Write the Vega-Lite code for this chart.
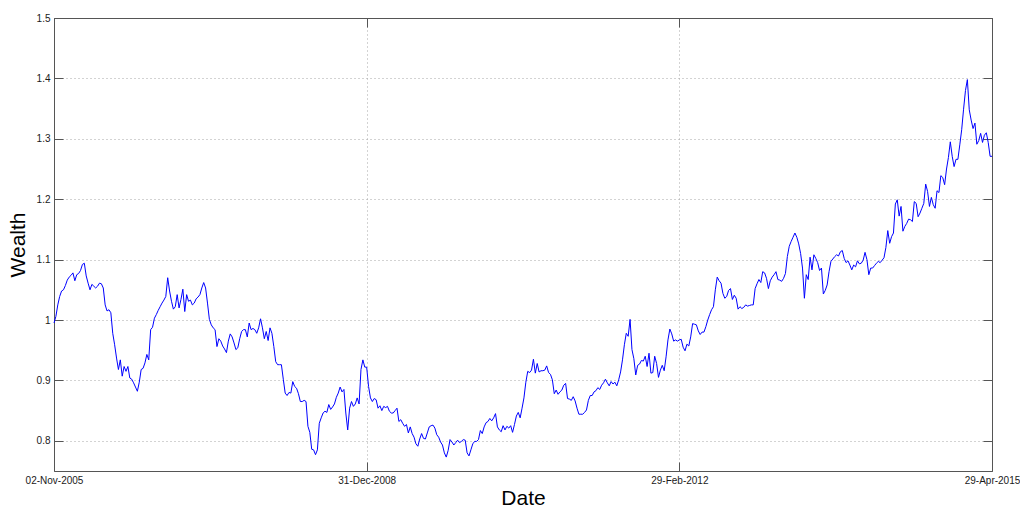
{
"$schema": "https://vega.github.io/schema/vega-lite/v6.json",
"width": 938,
"height": 453,
"autosize": "none",
"padding": {"left": 54, "top": 18, "right": 28, "bottom": 36},
"background": "white",
"config": {"view": {"stroke": null}, "font": "Liberation Sans"},
"data": {"values": [
{"date":"2005-11-02","wealth":0.995},{"date":"2005-11-09","wealth":1.006},{"date":"2005-11-16","wealth":1.025},{"date":"2005-11-23","wealth":1.039},{"date":"2005-11-30","wealth":1.048},{"date":"2005-12-07","wealth":1.05},{"date":"2005-12-14","wealth":1.057},{"date":"2005-12-21","wealth":1.066},{"date":"2005-12-28","wealth":1.071},
{"date":"2006-01-04","wealth":1.074},{"date":"2006-01-11","wealth":1.078},{"date":"2006-01-18","wealth":1.065},{"date":"2006-01-25","wealth":1.075},{"date":"2006-02-01","wealth":1.077},{"date":"2006-02-08","wealth":1.082},{"date":"2006-02-15","wealth":1.092},{"date":"2006-02-22","wealth":1.094},{"date":"2006-03-01","wealth":1.073},{"date":"2006-03-08","wealth":1.061},{"date":"2006-03-15","wealth":1.05},{"date":"2006-03-22","wealth":1.059},{"date":"2006-03-29","wealth":1.056},{"date":"2006-04-05","wealth":1.053},{"date":"2006-04-12","wealth":1.056},{"date":"2006-04-19","wealth":1.061},{"date":"2006-04-26","wealth":1.06},{"date":"2006-05-03","wealth":1.053},{"date":"2006-05-10","wealth":1.025},{"date":"2006-05-17","wealth":1.015},{"date":"2006-05-24","wealth":1.017},{"date":"2006-05-31","wealth":1.012},{"date":"2006-06-07","wealth":0.978},{"date":"2006-06-14","wealth":0.959},{"date":"2006-06-21","wealth":0.937},{"date":"2006-06-28","wealth":0.918},{"date":"2006-07-05","wealth":0.934},{"date":"2006-07-12","wealth":0.907},{"date":"2006-07-19","wealth":0.923},{"date":"2006-07-26","wealth":0.915},{"date":"2006-08-02","wealth":0.923},{"date":"2006-08-09","wealth":0.904},{"date":"2006-08-16","wealth":0.902},{"date":"2006-08-23","wealth":0.896},{"date":"2006-08-30","wealth":0.889},{"date":"2006-09-06","wealth":0.882},{"date":"2006-09-13","wealth":0.897},{"date":"2006-09-20","wealth":0.918},{"date":"2006-09-27","wealth":0.92},{"date":"2006-10-04","wealth":0.929},{"date":"2006-10-11","wealth":0.943},{"date":"2006-10-18","wealth":0.934},{"date":"2006-10-25","wealth":0.984},{"date":"2006-11-01","wealth":0.988},{"date":"2006-11-08","wealth":1.003},{"date":"2006-11-15","wealth":1.009},{"date":"2006-11-22","wealth":1.016},{"date":"2006-11-29","wealth":1.022},{"date":"2006-12-06","wealth":1.028},{"date":"2006-12-13","wealth":1.033},{"date":"2006-12-20","wealth":1.039},{"date":"2006-12-27","wealth":1.07},
{"date":"2007-01-03","wealth":1.048},{"date":"2007-01-10","wealth":1.031},{"date":"2007-01-17","wealth":1.018},{"date":"2007-01-24","wealth":1.022},{"date":"2007-01-31","wealth":1.042},{"date":"2007-02-07","wealth":1.02},{"date":"2007-02-14","wealth":1.034},{"date":"2007-02-21","wealth":1.051},{"date":"2007-02-28","wealth":1.014},{"date":"2007-03-07","wealth":1.042},{"date":"2007-03-14","wealth":1.031},{"date":"2007-03-21","wealth":1.033},{"date":"2007-03-28","wealth":1.025},{"date":"2007-04-04","wealth":1.028},{"date":"2007-04-11","wealth":1.035},{"date":"2007-04-18","wealth":1.038},{"date":"2007-04-25","wealth":1.042},{"date":"2007-05-02","wealth":1.053},{"date":"2007-05-09","wealth":1.062},{"date":"2007-05-16","wealth":1.053},{"date":"2007-05-23","wealth":1.028},{"date":"2007-05-30","wealth":1.001},{"date":"2007-06-06","wealth":0.992},{"date":"2007-06-13","wealth":0.987},{"date":"2007-06-20","wealth":0.984},{"date":"2007-06-27","wealth":0.956},{"date":"2007-07-04","wealth":0.969},{"date":"2007-07-11","wealth":0.965},{"date":"2007-07-18","wealth":0.957},{"date":"2007-07-25","wealth":0.952},{"date":"2007-08-01","wealth":0.946},{"date":"2007-08-08","wealth":0.965},{"date":"2007-08-15","wealth":0.977},{"date":"2007-08-22","wealth":0.972},{"date":"2007-08-29","wealth":0.962},{"date":"2007-09-05","wealth":0.951},{"date":"2007-09-12","wealth":0.954},{"date":"2007-09-19","wealth":0.969},{"date":"2007-09-26","wealth":0.981},{"date":"2007-10-03","wealth":0.984},{"date":"2007-10-10","wealth":0.984},{"date":"2007-10-17","wealth":0.972},{"date":"2007-10-24","wealth":0.995},{"date":"2007-10-31","wealth":0.984},{"date":"2007-11-07","wealth":0.986},{"date":"2007-11-14","wealth":0.984},{"date":"2007-11-21","wealth":0.978},{"date":"2007-11-28","wealth":0.987},{"date":"2007-12-05","wealth":1.002},{"date":"2007-12-12","wealth":0.987},{"date":"2007-12-19","wealth":0.969},{"date":"2007-12-26","wealth":0.981},
{"date":"2008-01-02","wealth":0.966},{"date":"2008-01-09","wealth":0.987},{"date":"2008-01-16","wealth":0.978},{"date":"2008-01-23","wealth":0.956},{"date":"2008-01-30","wealth":0.931},{"date":"2008-02-06","wealth":0.926},{"date":"2008-02-13","wealth":0.926},{"date":"2008-02-20","wealth":0.926},{"date":"2008-02-27","wealth":0.902},{"date":"2008-03-05","wealth":0.879},{"date":"2008-03-12","wealth":0.875},{"date":"2008-03-19","wealth":0.88},{"date":"2008-03-26","wealth":0.879},{"date":"2008-04-02","wealth":0.898},{"date":"2008-04-09","wealth":0.89},{"date":"2008-04-16","wealth":0.887},{"date":"2008-04-23","wealth":0.878},{"date":"2008-04-30","wealth":0.865},{"date":"2008-05-07","wealth":0.865},{"date":"2008-05-14","wealth":0.867},{"date":"2008-05-21","wealth":0.865},{"date":"2008-05-28","wealth":0.824},{"date":"2008-06-04","wealth":0.814},{"date":"2008-06-11","wealth":0.786},{"date":"2008-06-18","wealth":0.785},{"date":"2008-06-25","wealth":0.777},{"date":"2008-07-02","wealth":0.785},{"date":"2008-07-09","wealth":0.829},{"date":"2008-07-16","wealth":0.838},{"date":"2008-07-23","wealth":0.846},{"date":"2008-07-30","wealth":0.849},{"date":"2008-08-06","wealth":0.847},{"date":"2008-08-13","wealth":0.86},{"date":"2008-08-20","wealth":0.852},{"date":"2008-08-27","wealth":0.856},{"date":"2008-09-03","wealth":0.861},{"date":"2008-09-10","wealth":0.872},{"date":"2008-09-17","wealth":0.879},{"date":"2008-09-24","wealth":0.889},{"date":"2008-10-01","wealth":0.881},{"date":"2008-10-08","wealth":0.885},{"date":"2008-10-15","wealth":0.846},{"date":"2008-10-22","wealth":0.818},{"date":"2008-10-29","wealth":0.854},{"date":"2008-11-05","wealth":0.865},{"date":"2008-11-12","wealth":0.857},{"date":"2008-11-19","wealth":0.861},{"date":"2008-11-26","wealth":0.871},{"date":"2008-12-03","wealth":0.861},{"date":"2008-12-10","wealth":0.918},{"date":"2008-12-17","wealth":0.934},{"date":"2008-12-24","wealth":0.922},{"date":"2008-12-31","wealth":0.922},
{"date":"2009-01-07","wealth":0.89},{"date":"2009-01-14","wealth":0.871},{"date":"2009-01-21","wealth":0.865},{"date":"2009-01-28","wealth":0.87},{"date":"2009-02-04","wealth":0.868},{"date":"2009-02-11","wealth":0.854},{"date":"2009-02-18","wealth":0.858},{"date":"2009-02-25","wealth":0.85},{"date":"2009-03-04","wealth":0.857},{"date":"2009-03-11","wealth":0.855},{"date":"2009-03-18","wealth":0.857},{"date":"2009-03-25","wealth":0.849},{"date":"2009-04-01","wealth":0.846},{"date":"2009-04-08","wealth":0.846},{"date":"2009-04-15","wealth":0.85},{"date":"2009-04-22","wealth":0.854},{"date":"2009-04-29","wealth":0.832},{"date":"2009-05-06","wealth":0.835},{"date":"2009-05-13","wealth":0.829},{"date":"2009-05-20","wealth":0.824},{"date":"2009-05-27","wealth":0.827},{"date":"2009-06-03","wealth":0.813},{"date":"2009-06-10","wealth":0.823},{"date":"2009-06-17","wealth":0.812},{"date":"2009-06-24","wealth":0.806},{"date":"2009-07-01","wealth":0.795},{"date":"2009-07-08","wealth":0.791},{"date":"2009-07-15","wealth":0.803},{"date":"2009-07-22","wealth":0.812},{"date":"2009-07-29","wealth":0.804},{"date":"2009-08-05","wealth":0.803},{"date":"2009-08-12","wealth":0.813},{"date":"2009-08-19","wealth":0.823},{"date":"2009-08-26","wealth":0.825},{"date":"2009-09-02","wealth":0.826},{"date":"2009-09-09","wealth":0.821},{"date":"2009-09-16","wealth":0.81},{"date":"2009-09-23","wealth":0.806},{"date":"2009-09-30","wealth":0.798},{"date":"2009-10-07","wealth":0.793},{"date":"2009-10-14","wealth":0.78},{"date":"2009-10-21","wealth":0.773},{"date":"2009-10-28","wealth":0.784},{"date":"2009-11-04","wealth":0.802},{"date":"2009-11-11","wealth":0.798},{"date":"2009-11-18","wealth":0.793},{"date":"2009-11-25","wealth":0.797},{"date":"2009-12-02","wealth":0.801},{"date":"2009-12-09","wealth":0.797},{"date":"2009-12-16","wealth":0.799},{"date":"2009-12-23","wealth":0.802},{"date":"2009-12-30","wealth":0.801},
{"date":"2010-01-06","wealth":0.78},{"date":"2010-01-13","wealth":0.775},{"date":"2010-01-20","wealth":0.785},{"date":"2010-01-27","wealth":0.795},{"date":"2010-02-03","wealth":0.799},{"date":"2010-02-10","wealth":0.799},{"date":"2010-02-17","wealth":0.802},{"date":"2010-02-24","wealth":0.817},{"date":"2010-03-03","wealth":0.812},{"date":"2010-03-10","wealth":0.823},{"date":"2010-03-17","wealth":0.83},{"date":"2010-03-24","wealth":0.832},{"date":"2010-03-31","wealth":0.837},{"date":"2010-04-07","wealth":0.833},{"date":"2010-04-14","wealth":0.838},{"date":"2010-04-21","wealth":0.845},{"date":"2010-04-28","wealth":0.823},{"date":"2010-05-05","wealth":0.818},{"date":"2010-05-12","wealth":0.815},{"date":"2010-05-19","wealth":0.825},{"date":"2010-05-26","wealth":0.818},{"date":"2010-06-02","wealth":0.824},{"date":"2010-06-09","wealth":0.821},{"date":"2010-06-16","wealth":0.825},{"date":"2010-06-23","wealth":0.814},{"date":"2010-06-30","wealth":0.827},{"date":"2010-07-07","wealth":0.841},{"date":"2010-07-14","wealth":0.847},{"date":"2010-07-21","wealth":0.838},{"date":"2010-07-28","wealth":0.854},{"date":"2010-08-04","wealth":0.871},{"date":"2010-08-11","wealth":0.897},{"date":"2010-08-18","wealth":0.915},{"date":"2010-08-25","wealth":0.913},{"date":"2010-09-01","wealth":0.917},{"date":"2010-09-08","wealth":0.935},{"date":"2010-09-15","wealth":0.912},{"date":"2010-09-22","wealth":0.928},{"date":"2010-09-29","wealth":0.914},{"date":"2010-10-06","wealth":0.916},{"date":"2010-10-13","wealth":0.916},{"date":"2010-10-20","wealth":0.917},{"date":"2010-10-27","wealth":0.924},{"date":"2010-11-03","wealth":0.913},{"date":"2010-11-10","wealth":0.91},{"date":"2010-11-17","wealth":0.901},{"date":"2010-11-24","wealth":0.878},{"date":"2010-12-01","wealth":0.884},{"date":"2010-12-08","wealth":0.877},{"date":"2010-12-15","wealth":0.881},{"date":"2010-12-22","wealth":0.884},{"date":"2010-12-29","wealth":0.892},
{"date":"2011-01-05","wealth":0.895},{"date":"2011-01-12","wealth":0.87},{"date":"2011-01-19","wealth":0.869},{"date":"2011-01-26","wealth":0.867},{"date":"2011-02-02","wealth":0.873},{"date":"2011-02-09","wealth":0.866},{"date":"2011-02-16","wealth":0.854},{"date":"2011-02-23","wealth":0.844},{"date":"2011-03-02","wealth":0.844},{"date":"2011-03-09","wealth":0.844},{"date":"2011-03-16","wealth":0.847},{"date":"2011-03-23","wealth":0.851},{"date":"2011-03-30","wealth":0.867},{"date":"2011-04-06","wealth":0.875},{"date":"2011-04-13","wealth":0.875},{"date":"2011-04-20","wealth":0.881},{"date":"2011-04-27","wealth":0.883},{"date":"2011-05-04","wealth":0.888},{"date":"2011-05-11","wealth":0.885},{"date":"2011-05-18","wealth":0.892},{"date":"2011-05-25","wealth":0.896},{"date":"2011-06-01","wealth":0.902},{"date":"2011-06-08","wealth":0.896},{"date":"2011-06-15","wealth":0.891},{"date":"2011-06-22","wealth":0.898},{"date":"2011-06-29","wealth":0.894},{"date":"2011-07-06","wealth":0.897},{"date":"2011-07-13","wealth":0.891},{"date":"2011-07-20","wealth":0.901},{"date":"2011-07-27","wealth":0.914},{"date":"2011-08-03","wealth":0.934},{"date":"2011-08-10","wealth":0.959},{"date":"2011-08-17","wealth":0.978},{"date":"2011-08-24","wealth":0.973},{"date":"2011-08-31","wealth":1.001},{"date":"2011-09-07","wealth":0.951},{"date":"2011-09-14","wealth":0.936},{"date":"2011-09-21","wealth":0.909},{"date":"2011-09-28","wealth":0.925},{"date":"2011-10-05","wealth":0.927},{"date":"2011-10-12","wealth":0.933},{"date":"2011-10-19","wealth":0.932},{"date":"2011-10-26","wealth":0.94},{"date":"2011-11-02","wealth":0.923},{"date":"2011-11-09","wealth":0.945},{"date":"2011-11-16","wealth":0.912},{"date":"2011-11-23","wealth":0.913},{"date":"2011-11-30","wealth":0.94},{"date":"2011-12-07","wealth":0.928},{"date":"2011-12-14","wealth":0.905},{"date":"2011-12-21","wealth":0.917},{"date":"2011-12-28","wealth":0.925},
{"date":"2012-01-04","wealth":0.916},{"date":"2012-01-11","wealth":0.939},{"date":"2012-01-18","wealth":0.967},{"date":"2012-01-25","wealth":0.985},{"date":"2012-02-01","wealth":0.977},{"date":"2012-02-08","wealth":0.965},{"date":"2012-02-15","wealth":0.967},{"date":"2012-02-22","wealth":0.965},{"date":"2012-02-29","wealth":0.967},{"date":"2012-03-07","wealth":0.968},{"date":"2012-03-14","wealth":0.955},{"date":"2012-03-21","wealth":0.949},{"date":"2012-03-28","wealth":0.96},{"date":"2012-04-04","wealth":0.957},{"date":"2012-04-11","wealth":0.972},{"date":"2012-04-18","wealth":0.994},{"date":"2012-04-25","wealth":0.993},{"date":"2012-05-02","wealth":0.992},{"date":"2012-05-09","wealth":0.982},{"date":"2012-05-16","wealth":0.976},{"date":"2012-05-23","wealth":0.98},{"date":"2012-05-30","wealth":0.98},{"date":"2012-06-06","wealth":0.989},{"date":"2012-06-13","wealth":1.0},{"date":"2012-06-20","wealth":1.009},{"date":"2012-06-27","wealth":1.017},{"date":"2012-07-04","wealth":1.022},{"date":"2012-07-11","wealth":1.05},{"date":"2012-07-18","wealth":1.071},{"date":"2012-07-25","wealth":1.065},{"date":"2012-08-01","wealth":1.061},{"date":"2012-08-08","wealth":1.044},{"date":"2012-08-15","wealth":1.036},{"date":"2012-08-22","wealth":1.039},{"date":"2012-08-29","wealth":1.049},{"date":"2012-09-05","wealth":1.052},{"date":"2012-09-12","wealth":1.034},{"date":"2012-09-19","wealth":1.041},{"date":"2012-09-26","wealth":1.036},{"date":"2012-10-03","wealth":1.018},{"date":"2012-10-10","wealth":1.022},{"date":"2012-10-17","wealth":1.019},{"date":"2012-10-24","wealth":1.021},{"date":"2012-10-31","wealth":1.025},{"date":"2012-11-07","wealth":1.023},{"date":"2012-11-14","wealth":1.024},{"date":"2012-11-21","wealth":1.025},{"date":"2012-11-28","wealth":1.025},{"date":"2012-12-05","wealth":1.052},{"date":"2012-12-12","wealth":1.06},{"date":"2012-12-19","wealth":1.067},{"date":"2012-12-26","wealth":1.062},
{"date":"2013-01-02","wealth":1.08},{"date":"2013-01-09","wealth":1.078},{"date":"2013-01-16","wealth":1.069},{"date":"2013-01-23","wealth":1.052},{"date":"2013-01-30","wealth":1.065},{"date":"2013-02-06","wealth":1.071},{"date":"2013-02-13","wealth":1.075},{"date":"2013-02-20","wealth":1.08},{"date":"2013-02-27","wealth":1.067},{"date":"2013-03-06","wealth":1.066},{"date":"2013-03-13","wealth":1.064},{"date":"2013-03-20","wealth":1.069},{"date":"2013-03-27","wealth":1.077},{"date":"2013-04-03","wealth":1.105},{"date":"2013-04-10","wealth":1.122},{"date":"2013-04-17","wealth":1.13},{"date":"2013-04-24","wealth":1.137},{"date":"2013-05-01","wealth":1.144},{"date":"2013-05-08","wealth":1.137},{"date":"2013-05-15","wealth":1.126},{"date":"2013-05-22","wealth":1.11},{"date":"2013-05-29","wealth":1.086},{"date":"2013-06-05","wealth":1.036},{"date":"2013-06-12","wealth":1.075},{"date":"2013-06-19","wealth":1.067},{"date":"2013-06-26","wealth":1.104},{"date":"2013-07-03","wealth":1.083},{"date":"2013-07-10","wealth":1.108},{"date":"2013-07-17","wealth":1.102},{"date":"2013-07-24","wealth":1.095},{"date":"2013-07-31","wealth":1.082},{"date":"2013-08-07","wealth":1.086},{"date":"2013-08-14","wealth":1.043},{"date":"2013-08-21","wealth":1.049},{"date":"2013-08-28","wealth":1.058},{"date":"2013-09-04","wealth":1.08},{"date":"2013-09-11","wealth":1.097},{"date":"2013-09-18","wealth":1.101},{"date":"2013-09-25","wealth":1.105},{"date":"2013-10-02","wealth":1.108},{"date":"2013-10-09","wealth":1.106},{"date":"2013-10-16","wealth":1.113},{"date":"2013-10-23","wealth":1.115},{"date":"2013-10-30","wealth":1.102},{"date":"2013-11-06","wealth":1.095},{"date":"2013-11-13","wealth":1.098},{"date":"2013-11-20","wealth":1.091},{"date":"2013-11-27","wealth":1.083},{"date":"2013-12-04","wealth":1.091},{"date":"2013-12-11","wealth":1.088},{"date":"2013-12-18","wealth":1.098},{"date":"2013-12-25","wealth":1.093},
{"date":"2014-01-01","wealth":1.094},{"date":"2014-01-08","wealth":1.099},{"date":"2014-01-15","wealth":1.112},{"date":"2014-01-22","wealth":1.1},{"date":"2014-01-29","wealth":1.075},{"date":"2014-02-05","wealth":1.086},{"date":"2014-02-12","wealth":1.086},{"date":"2014-02-19","wealth":1.09},{"date":"2014-02-26","wealth":1.094},{"date":"2014-03-05","wealth":1.097},{"date":"2014-03-12","wealth":1.095},{"date":"2014-03-19","wealth":1.099},{"date":"2014-03-26","wealth":1.103},{"date":"2014-04-02","wealth":1.12},{"date":"2014-04-09","wealth":1.148},{"date":"2014-04-16","wealth":1.127},{"date":"2014-04-23","wealth":1.138},{"date":"2014-04-30","wealth":1.144},{"date":"2014-05-07","wealth":1.192},{"date":"2014-05-14","wealth":1.199},{"date":"2014-05-21","wealth":1.172},{"date":"2014-05-28","wealth":1.188},{"date":"2014-06-04","wealth":1.147},{"date":"2014-06-11","wealth":1.155},{"date":"2014-06-18","wealth":1.16},{"date":"2014-06-25","wealth":1.167},{"date":"2014-07-02","wealth":1.166},{"date":"2014-07-09","wealth":1.163},{"date":"2014-07-16","wealth":1.196},{"date":"2014-07-23","wealth":1.193},{"date":"2014-07-30","wealth":1.171},{"date":"2014-08-06","wealth":1.177},{"date":"2014-08-13","wealth":1.185},{"date":"2014-08-20","wealth":1.193},{"date":"2014-08-27","wealth":1.225},{"date":"2014-09-03","wealth":1.213},{"date":"2014-09-10","wealth":1.188},{"date":"2014-09-17","wealth":1.203},{"date":"2014-09-24","wealth":1.191},{"date":"2014-10-01","wealth":1.185},{"date":"2014-10-08","wealth":1.214},{"date":"2014-10-15","wealth":1.211},{"date":"2014-10-22","wealth":1.239},{"date":"2014-10-29","wealth":1.236},{"date":"2014-11-05","wealth":1.224},{"date":"2014-11-12","wealth":1.25},{"date":"2014-11-19","wealth":1.269},{"date":"2014-11-26","wealth":1.295},{"date":"2014-12-03","wealth":1.271},{"date":"2014-12-10","wealth":1.254},{"date":"2014-12-17","wealth":1.266},{"date":"2014-12-24","wealth":1.266},{"date":"2014-12-31","wealth":1.29},
{"date":"2015-01-07","wealth":1.315},{"date":"2015-01-14","wealth":1.349},{"date":"2015-01-21","wealth":1.38},{"date":"2015-01-28","wealth":1.398},{"date":"2015-02-04","wealth":1.348},{"date":"2015-02-11","wealth":1.331},{"date":"2015-02-18","wealth":1.317},{"date":"2015-02-25","wealth":1.326},{"date":"2015-03-04","wealth":1.291},{"date":"2015-03-11","wealth":1.297},{"date":"2015-03-18","wealth":1.309},{"date":"2015-03-25","wealth":1.294},{"date":"2015-04-01","wealth":1.306},{"date":"2015-04-08","wealth":1.31},{"date":"2015-04-15","wealth":1.294},{"date":"2015-04-22","wealth":1.271},{"date":"2015-04-29","wealth":1.271}
]},
"layer": [
{
"mark": {"type": "line", "color": "#0000ff", "strokeWidth": 1},
"encoding": {
"x": {"field": "date", "type": "temporal",
"scale": {"type": "utc", "domain": [{"year": 2005, "month": 11, "date": 2, "utc": true}, {"year": 2015, "month": 4, "date": 29, "utc": true}]},
"axis": {"orient": "bottom",
"values": [{"year": 2005, "month": 11, "date": 2, "utc": true}, {"year": 2008, "month": 12, "date": 31, "utc": true}, {"year": 2012, "month": 2, "date": 29, "utc": true}, {"year": 2015, "month": 4, "date": 29, "utc": true}],
"format": "%d-%b-%Y", "labelFlush": false, "labelOverlap": false, "labelBound": false,
"grid": true, "gridDash": [1, 3], "gridColor": "#a6a6a6", "gridOpacity": 1, "gridWidth": 1,
"domain": true, "domainColor": "#555555", "domainWidth": 1,
"ticks": true, "tickColor": "#555555", "tickSize": -9, "tickWidth": 1,
"labelPadding": 13, "labelFontSize": 10, "labelColor": "#1a1a1a", "labelFont": "Liberation Sans",
"title": "Date", "titleFontSize": 21, "titleFontWeight": "normal", "titleColor": "#000000", "titleFont": "Liberation Sans", "titlePadding": 2}},
"y": {"field": "wealth", "type": "quantitative",
"scale": {"domain": [0.75, 1.5], "nice": false, "zero": false},
"axis": {"orient": "left",
"values": [0.8, 0.9, 1.0, 1.1, 1.2, 1.3, 1.4, 1.5], "format": "~g",
"grid": true, "gridDash": [1, 3], "gridColor": "#a6a6a6", "gridOpacity": 1, "gridWidth": 1,
"domain": true, "domainColor": "#555555", "domainWidth": 1,
"ticks": true, "tickColor": "#555555", "tickSize": -9, "tickWidth": 1,
"labelPadding": 13, "labelFontSize": 10, "labelColor": "#1a1a1a", "labelFont": "Liberation Sans", "labelFlush": false, "labelOverlap": false, "labelBound": false,
"title": "Wealth", "titleFontSize": 21, "titleFontWeight": "normal", "titleColor": "#000000", "titleFont": "Liberation Sans", "titlePadding": 8}}
}
},
{
"mark": {"type": "line", "opacity": 0},
"encoding": {
"x": {"field": "date", "type": "temporal",
"axis": {"orient": "top",
"values": [{"year": 2005, "month": 11, "date": 2, "utc": true}, {"year": 2008, "month": 12, "date": 31, "utc": true}, {"year": 2012, "month": 2, "date": 29, "utc": true}, {"year": 2015, "month": 4, "date": 29, "utc": true}],
"labels": false, "grid": false, "title": null,
"domain": true, "domainColor": "#555555", "domainWidth": 1,
"ticks": true, "tickColor": "#555555", "tickSize": -9, "tickWidth": 1}},
"y": {"field": "wealth", "type": "quantitative",
"axis": {"orient": "right",
"values": [0.8, 0.9, 1.0, 1.1, 1.2, 1.3, 1.4, 1.5],
"labels": false, "grid": false, "title": null,
"domain": true, "domainColor": "#555555", "domainWidth": 1,
"ticks": true, "tickColor": "#555555", "tickSize": -9, "tickWidth": 1}}
}
}
],
"resolve": {"axis": {"x": "independent", "y": "independent"}}
}
